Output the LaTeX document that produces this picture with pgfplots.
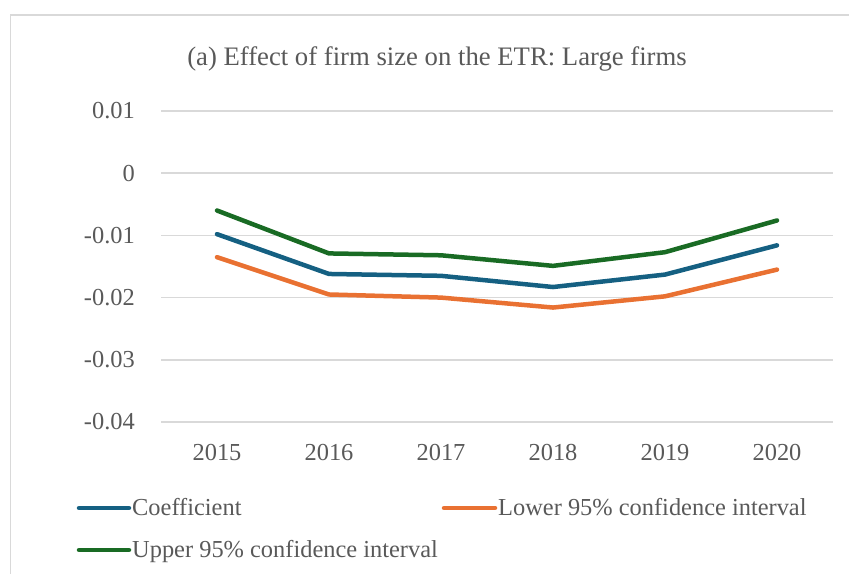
\documentclass[border=0pt]{standalone}
\usepackage{pgfplots}
\pgfplotsset{compat=1.18}
\usepackage{fontspec}
\setmainfont{Liberation Serif}
\definecolor{cblue}{HTML}{156082}
\definecolor{corange}{HTML}{E97132}
\definecolor{cgreen}{HTML}{196B24}
\definecolor{ctext}{HTML}{595959}
\definecolor{cgrid}{HTML}{D9D9D9}
\begin{document}
\begin{tikzpicture}[x=1bp,y=1bp]
\path[use as bounding box] (0,0) rectangle (849,574);
\draw[cgrid, line width=1.5bp] (10.5,-2) -- (10.5,559) -- (852,559);
\begin{axis}[
  at={(161bp,152bp)}, anchor=south west,
  scale only axis, width=672bp, height=311bp,
  xmin=-0.5, xmax=5.5, ymin=-0.04, ymax=0.01,
  scaled y ticks=false,
  xtick={0,1,2,3,4,5},
  xticklabels={2015,2016,2017,2018,2019,2020},
  ytick={-0.04,-0.03,-0.02,-0.01,0,0.01},
  yticklabels={-0.04,-0.03,-0.02,-0.01,0,0.01},
  axis line style={draw=none},
  major tick length=0pt,
  ymajorgrids,
  grid style={cgrid, line width=1.5bp},
  tick label style={font=\fontsize{24.5}{28}\selectfont, text=ctext, inner sep=0pt},
  yticklabel style={anchor=east, xshift=-26bp},
  xticklabel style={anchor=north, yshift=-22bp},
  clip=false,
]
\addplot[cgreen, line width=4.5bp, line cap=round, line join=round] coordinates {
 (0,-0.0060) (1,-0.0129) (2,-0.0132) (3,-0.0149) (4,-0.0127) (5,-0.0076)};
\addplot[cblue, line width=4.5bp, line cap=round, line join=round] coordinates {
 (0,-0.0098) (1,-0.0162) (2,-0.0165) (3,-0.0183) (4,-0.0163) (5,-0.0116)};
\addplot[corange, line width=4.5bp, line cap=round, line join=round] coordinates {
 (0,-0.0135) (1,-0.0195) (2,-0.0200) (3,-0.0216) (4,-0.0198) (5,-0.0155)};
\end{axis}
\node[font=\fontsize{26.8}{30}\selectfont, text=ctext] at (437,515) {(a) Effect of firm size on the ETR: Large firms};
\draw[cblue, line width=4.5bp, line cap=round] (79,66) -- (129,66);
\node[anchor=base west, inner sep=0pt, font=\fontsize{24.5}{28}\selectfont, text=ctext] at (132,58) {Coefficient};
\draw[corange, line width=4.5bp, line cap=round] (444,66) -- (495,66);
\node[anchor=base west, inner sep=0pt, font=\fontsize{24.5}{28}\selectfont, text=ctext] at (498,58) {Lower 95\% confidence interval};
\draw[cgreen, line width=4.5bp, line cap=round] (79,24) -- (129,24);
\node[anchor=base west, inner sep=0pt, font=\fontsize{24.5}{28}\selectfont, text=ctext] at (132,16) {Upper 95\% confidence interval};
\end{tikzpicture}
\end{document}
